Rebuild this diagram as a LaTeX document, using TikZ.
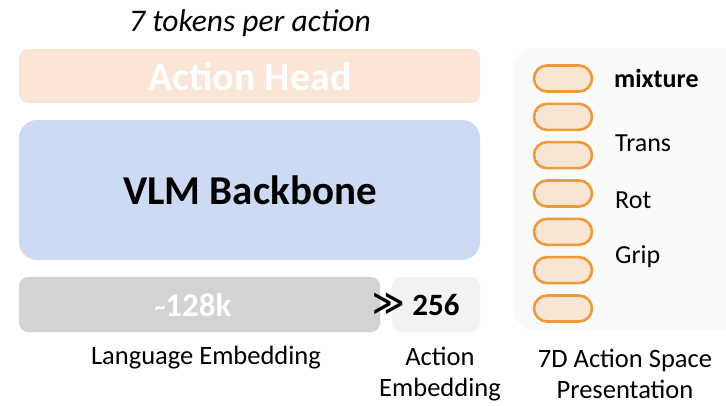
\documentclass[tikz,border=0pt]{standalone}
\usepackage{fontspec}
\setmainfont{Carlito}
\newfontfamily\symbolfont{DejaVu Sans}
\usetikzlibrary{positioning}
\definecolor{headfill}{HTML}{FBE5D6}
\definecolor{vlmfill}{HTML}{CDDAF4}
\definecolor{langfill}{HTML}{D3D3D3}
\definecolor{actfill}{HTML}{F2F2F2}
\definecolor{panelfill}{HTML}{FAFAFA}
\definecolor{pillfill}{HTML}{F9E5D3}
\definecolor{pillline}{HTML}{EE9A38}
\tikzset{
  pill/.style={draw=pillline, line width=2.6pt, fill=pillfill, rounded corners=13pt,
    minimum width=58pt, minimum height=26pt, inner sep=0pt},
  caption/.style={font=\fontsize{26.5}{31}\selectfont, align=center, inner sep=0pt},
  dimlabel/.style={font=\fontsize{26}{30}\selectfont, anchor=west, inner sep=0pt},
}
\begin{document}
\begin{tikzpicture}[x=1pt, y=-1pt]
\useasboundingbox (0,0) rectangle (726,405);
% title
\node (title) at (250,23) {\fontsize{31.5}{36}\selectfont\itshape 7 tokens per action};
% action head
\fill[headfill, rounded corners=9pt] (19,49) rectangle (480,103);
\node[text=white] (head) at (250,77) {\fontsize{40}{46}\selectfont\bfseries Action Head};
% VLM backbone
\fill[vlmfill, rounded corners=18pt] (19,120) rectangle (480,260);
\node (vlm) at (250,190) {\fontsize{41}{48}\selectfont\bfseries VLM Backbone};
% language embedding
\fill[langfill, rounded corners=9pt] (19,277) rectangle (380,332);
\node[text=white] (lang) at (193,305) {\fontsize{33}{38}\selectfont\bfseries{\fontsize{22}{24}\selectfont\raisebox{2pt}{\textasciitilde}}128k};
% action embedding
\fill[actfill, rounded corners=9pt] (392,277) rectangle (480,332);
\node[inner sep=0pt] (gg) at (389,304) {\fontsize{31}{34}\symbolfont\bfseries ≫};
\node (act) at (436,305) {\fontsize{31}{36}\selectfont\bfseries 256};
% captions
\node[caption] (langcap) at (206,358) {Language Embedding};
\node[caption] (actcap) at (440,374) {Action\\Embedding};
\node[caption] (spacecap) at (625,374) {7D Action Space\\Presentation};
% action space panel
\fill[panelfill, rounded corners=22pt] (513,48) rectangle (760,330);
\foreach \i in {0,...,6} {
  \node[pill] (p\i) at (563,{78.5+38.33*\i}) {};
}
\node[dimlabel] (mix) at (614,78) {\bfseries mixture};
\node[dimlabel] (trans) at (615,143) {Trans};
\node[dimlabel] (rot) at (615,200) {Rot};
\node[dimlabel] (grip) at (615,257) {Grip};
\end{tikzpicture}
\end{document}
